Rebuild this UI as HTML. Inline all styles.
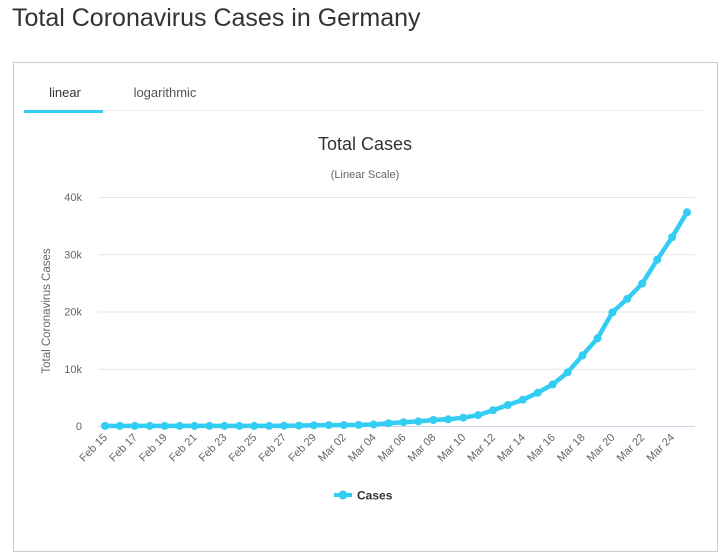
<!DOCTYPE html>
<html><head><meta charset="utf-8"><style>
body{margin:0;background:#fff;font-family:"Liberation Sans","DejaVu Sans",sans-serif;}
.h{position:absolute;left:12px;top:4px;font-size:25px;color:#333;}
.box{position:absolute;left:13px;top:62px;width:703px;height:488px;border:1px solid #ccc;}
</style></head><body>
<div class="h">Total Coronavirus Cases in Germany</div>
<div class="box"></div>
<svg id="s" width="722" height="557" style="position:absolute;left:0;top:0" font-family="Liberation Sans, DejaVu Sans, sans-serif">
<text x="65" y="97" font-size="13" fill="#333" text-anchor="middle">linear</text>
<text x="165" y="97" font-size="13" fill="#555" text-anchor="middle">logarithmic</text>
<line x1="24" y1="110.5" x2="705" y2="110.5" stroke="#eee"/>
<rect x="24" y="110" width="79" height="3" fill="#33ccf2"/>
<text x="365" y="150" font-size="18" fill="#333" text-anchor="middle">Total Cases</text>
<text x="365" y="178" font-size="11" fill="#666" text-anchor="middle">(Linear Scale)</text>
<text transform="translate(50,311) rotate(-90)" font-size="11.5" fill="#666" text-anchor="middle">Total Coronavirus Cases</text>
<g id="g"></g>
<line x1="334" y1="495" x2="352" y2="495" stroke="#33ccf2" stroke-width="4"/>
<circle cx="343" cy="495" r="4.5" fill="#33ccf2"/>
<text x="357" y="499.5" font-size="12" font-weight="bold" fill="#333">Cases</text>
</svg>
<script>
var d=[16,16,16,16,16,16,16,16,16,16,18,21,26,53,66,117,150,159,196,262,482,670,799,1040,1176,1457,1908,2745,3675,4599,5813,7272,9367,12327,15320,19848,22213,24873,29056,32986,37323];
d=d.slice(1);
var g='',x0=105,st=(687-105)/39,y0=426,k=229/40000;
for(var i=0;i<=4;i++){var y=y0-i*10000*k;g+='<line x1="98" y1="'+(y+.5)+'" x2="695" y2="'+(y+.5)+'" stroke="'+(i?'#e6e6e6':'#ccd6eb')+'"/>';
g+='<text x="82" y="'+(y+4)+'" font-size="11" fill="#666" text-anchor="end">'+(i?i*10+'k':'0')+'</text>';}
var m=['Feb 15','Feb 17','Feb 19','Feb 21','Feb 23','Feb 25','Feb 27','Feb 29','Mar 02','Mar 04','Mar 06','Mar 08','Mar 10','Mar 12','Mar 14','Mar 16','Mar 18','Mar 20','Mar 22','Mar 24'];
for(var j=0;j<m.length;j++){var x=x0+j*2*st+3;g+='<text transform="translate('+x+',438) rotate(-45)" font-size="11" fill="#666" text-anchor="end">'+m[j]+'</text>';}
var p='';for(var i=0;i<d.length;i++){p+=(i?'L':'M')+(x0+i*st).toFixed(1)+','+(y0-d[i]*k).toFixed(1);}
g+='<path d="'+p+'" fill="none" stroke="#33ccf2" stroke-width="4.5" stroke-linejoin="round"/>';
for(var i=0;i<d.length;i++)g+='<circle cx="'+(x0+i*st).toFixed(1)+'" cy="'+(y0-d[i]*k).toFixed(1)+'" r="4" fill="#33ccf2"/>';
document.getElementById('g').innerHTML=g;
</script>
</body></html>
